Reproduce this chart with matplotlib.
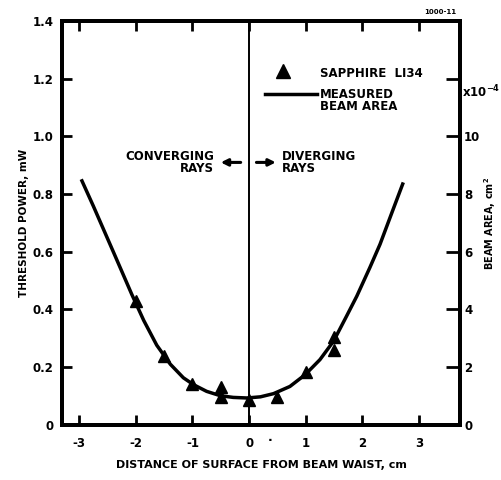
import numpy as np
import matplotlib
matplotlib.use("Agg")
import matplotlib.pyplot as plt

# Datos
x_triangulos = [-2.0, -1.5, -1.0, -0.5, -0.5, 0.0, 0.5, 1.0, 1.5, 1.5]
y_triangulos = [0.43, 0.24, 0.14, 0.13, 0.095, 0.087, 0.097, 0.184, 0.306, 0.26]

x_curva = [-2.95, -2.75, -2.57, -2.39, -2.22, -2.07, -1.86, -1.63, -1.39, -1.16,
           -0.98, -0.75, -0.51, -0.28, -0.04, 0.2, 0.43, 0.72, 0.99, 1.25,
           1.49, 1.72, 1.90, 2.13, 2.31, 2.52, 2.71]
y_curva = [0.846, 0.759, 0.678, 0.597, 0.520, 0.452, 0.362, 0.276, 0.210, 0.163,
           0.139, 0.116, 0.101, 0.095, 0.093, 0.097, 0.108, 0.133, 0.174, 0.226,
           0.290, 0.377, 0.446, 0.545, 0.626, 0.736, 0.835]

ticks_x = [-3, -2, -1, 0, 1, 2, 3]
ticks_izq = [0, 0.2, 0.4, 0.6, 0.8, 1.0, 1.2, 1.4]
etiquetas_izq = ['0', '0.2', '0.4', '0.6', '0.8', '1.0', '1.2', '1.4']
ticks_der = [0, 2, 4, 6, 8, 10, 12]
etiquetas_der = ['0', '2', '4', '6', '8', '10', '']

plt.rcParams['font.family'] = ['DejaVu Sans']
plt.rcParams['font.weight'] = 'bold'

fig = plt.figure(figsize=(5.01, 4.8), dpi=100)
ax = fig.add_axes([0.124, 0.115, 0.794, 0.841])

ax.plot(x_curva, y_curva, color='black', lw=2.5, zorder=3)
ax.plot(x_triangulos, y_triangulos, linestyle='none', marker='^', ms=9,
        color='black', zorder=4)
ax.axvline(0, color='black', lw=1.4, zorder=2)

ax.set_xlim(-3.3, 3.72)
ax.set_ylim(0, 1.4)
ax.set_xticks(ticks_x)
ax.set_xticklabels([str(t) for t in ticks_x])
ax.set_yticks(ticks_izq)
ax.set_yticklabels(etiquetas_izq)
ax.tick_params(axis='both', direction='in', length=7, width=2, labelsize=8.5, pad=6)
ax.tick_params(axis='x', top=True, pad=9)
for s in ax.spines.values():
    s.set_linewidth(2.8)

ax.set_xlabel('DISTANCE OF SURFACE FROM BEAM WAIST, cm', fontsize=8,
              fontweight='heavy', labelpad=7)
ax.set_ylabel('THRESHOLD POWER, mW', fontsize=7.5, fontweight='heavy', labelpad=3)

# eje derecho
ax2 = ax.twinx()
ax2.set_ylim(0, 14)
ax2.set_yticks(ticks_der)
ax2.set_yticklabels(etiquetas_der)
ax2.tick_params(axis='y', direction='in', length=10, width=2, labelsize=8.5, pad=3)
for s in ax2.spines.values():
    s.set_linewidth(2.8)
ax2.set_ylabel('BEAM AREA, cm$^2$', fontsize=7, fontweight='heavy', labelpad=1)
ax2.text(1.005, 0.825, r'x10$^{-4}$', transform=ax2.transAxes, fontsize=8.5,
         fontweight='bold', va='center', ha='left')

# leyenda
ax.plot([0.6], [1.228], marker='^', ms=10, color='black', linestyle='none')
ax.text(1.25, 1.22, 'SAPPHIRE  LI34', fontsize=8.5, fontweight='heavy', va='center')
ax.plot([0.28, 1.2], [1.148, 1.148], color='black', lw=2.5)
ax.text(1.25, 1.125, 'MEASURED\nBEAM AREA', fontsize=8.5, fontweight='heavy',
        va='center', linespacing=0.95)

# rayos
ax.text(-0.62, 0.91, 'CONVERGING\nRAYS', fontsize=8.5, fontweight='heavy',
        ha='right', va='center', linespacing=0.95)
ax.text(0.58, 0.91, 'DIVERGING\nRAYS', fontsize=8.5, fontweight='heavy',
        ha='left', va='center', linespacing=0.95)
ax.annotate('', xy=(-0.55, 0.91), xytext=(-0.1, 0.91),
            arrowprops=dict(arrowstyle='-|>', color='black', lw=2.2, mutation_scale=10))
ax.annotate('', xy=(0.52, 0.91), xytext=(0.08, 0.91),
            arrowprops=dict(arrowstyle='-|>', color='black', lw=2.2, mutation_scale=10))

ax.text(0.37, -0.055, '·', fontsize=9, ha='center', va='center')
fig.text(0.91, 0.975, '1000-11', fontsize=5, fontweight='bold', ha='right', va='center')

fig.savefig('out.png', dpi=100)
